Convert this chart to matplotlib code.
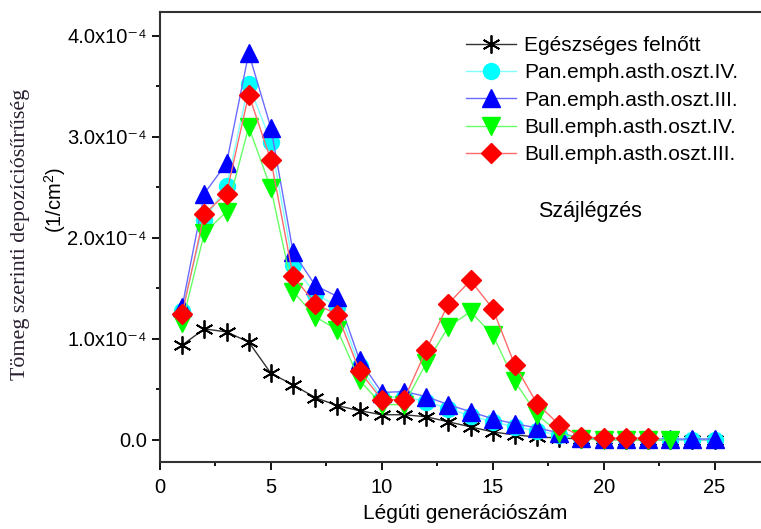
import matplotlib
matplotlib.use("Agg")
import matplotlib.pyplot as plt
from matplotlib.ticker import MultipleLocator

plt.rcParams['font.family'] = ['Liberation Sans', 'DejaVu Sans']
plt.rcParams['mathtext.fontset'] = 'custom'
plt.rcParams['mathtext.rm'] = 'Liberation Sans'

# generation numbers
gen = list(range(1, 26))

# values in units of 1e-4 (1/cm^2)
healthy = [0.94, 1.10, 1.07, 0.97, 0.66, 0.545, 0.42, 0.34, 0.29, 0.25, 0.25, 0.23, 0.18,
           0.13, 0.08, 0.05, 0.03, 0.02, 0.01, 0.005, 0.003, 0.002, 0.001, 0.001, 0.0]
pan4 = [1.28, 2.18, 2.51, 3.52, 2.95, 1.73, 1.45, 1.32, 0.73, 0.42, 0.43, 0.38, 0.31,
        0.24, 0.18, 0.13, 0.09, 0.05, 0.02, 0.01, 0.01, 0.01, 0.0, 0.0, 0.0]
pan3 = [1.32, 2.44, 2.74, 3.83, 3.09, 1.86, 1.53, 1.42, 0.79, 0.47, 0.48, 0.43, 0.35,
        0.28, 0.21, 0.16, 0.12, 0.07, 0.02, 0.01, 0.01, 0.01, 0.01, 0.01, 0.01]
bull4 = [1.16, 2.05, 2.26, 3.10, 2.49, 1.47, 1.22, 1.09, 0.59, 0.35, 0.35, 0.76, 1.12,
         1.27, 1.04, 0.58, 0.25, 0.07, 0.01, 0.0, 0.0, 0.0, 0.0]
bull3 = [1.25, 2.24, 2.44, 3.42, 2.77, 1.62, 1.35, 1.24, 0.68, 0.40, 0.40, 0.89, 1.35,
         1.58, 1.30, 0.74, 0.36, 0.15, 0.03, 0.02, 0.02, 0.02]

labels = ["Egészséges felnőtt", "Pan.emph.asth.oszt.IV.", "Pan.emph.asth.oszt.III.",
          "Bull.emph.asth.oszt.IV.", "Bull.emph.asth.oszt.III."]
ytick_vals = [0, 1, 2, 3, 4]
ytick_labels = ["0.0", "1.0x10⁻⁴", "2.0x10⁻⁴", "3.0x10⁻⁴", "4.0x10⁻⁴"]

fig = plt.figure(figsize=(7.61, 5.29), dpi=100)
ax = fig.add_axes([160 / 761, 0.1272, 610 / 761, 0.8507])

ax.plot(gen, healthy, color='#333333', lw=1, marker=(6, 2, 0), ms=13, mew=1.3,
        mec='black', label=labels[0])
ax.plot(gen, pan4, color='#80ffff', lw=1, marker='o', ms=11.5, mfc='#00ffff',
        mec='#00ffff', label=labels[1])
ax.plot(gen, pan3, color='#6a6aff', lw=1, marker='^', ms=12.5, mfc='#0000ff',
        mec='#0000ff', label=labels[2])
ax.plot(gen[:len(bull4)], bull4, color='#66ff66', lw=1, marker='v', ms=12.5,
        mfc='#00ff00', mec='#00ff00', label=labels[3])
ax.plot(gen[:len(bull3)], bull3, color='#ff6a6a', lw=1, marker='D', ms=10.5,
        mfc='#ff0000', mec='#ff0000', label=labels[4])

ax.set_xlim(0, 27.5)
ax.set_ylim(-0.215, 4.24)
ax.xaxis.set_major_locator(MultipleLocator(5))
ax.xaxis.set_minor_locator(MultipleLocator(2.5))
ax.set_yticks(ytick_vals)
ax.set_yticklabels(ytick_labels)
ax.yaxis.set_minor_locator(MultipleLocator(0.5))
ax.tick_params(which='major', direction='out', length=6, width=1.3, labelsize=14.5)
ax.tick_params(which='minor', direction='out', length=3, width=1.3)
ax.tick_params(axis='x', pad=6)
for s in ax.spines.values():
    s.set_linewidth(1.5)
    s.set_color('#333333')

ax.set_xlabel("Légúti generációszám", fontsize=15, labelpad=5)

fig.text(21 / 761, 1 - 234 / 529, "Tömeg szerinti depozíciósűrűség", rotation=90,
         family='Liberation Serif', fontsize=15.8, color='#2a2030', ha='center', va='center')
fig.text(55 / 761, 1 - 200 / 529, "(1/cm$^2$)", rotation=90, fontsize=14.5,
         ha='center', va='center')

fig.text(590 / 761, 1 - 212 / 529, "Szájlégzés", fontsize=15.5, ha='center', va='center')

ax.legend(loc='upper left', bbox_to_anchor=(466 / 761, 1 - 36 / 529),
          bbox_transform=fig.transFigure, frameon=False, fontsize=15,
          handlelength=2.4, handletextpad=0.4, labelspacing=0.4, borderpad=0,
          borderaxespad=0)

fig.savefig("out.png", dpi=100)
